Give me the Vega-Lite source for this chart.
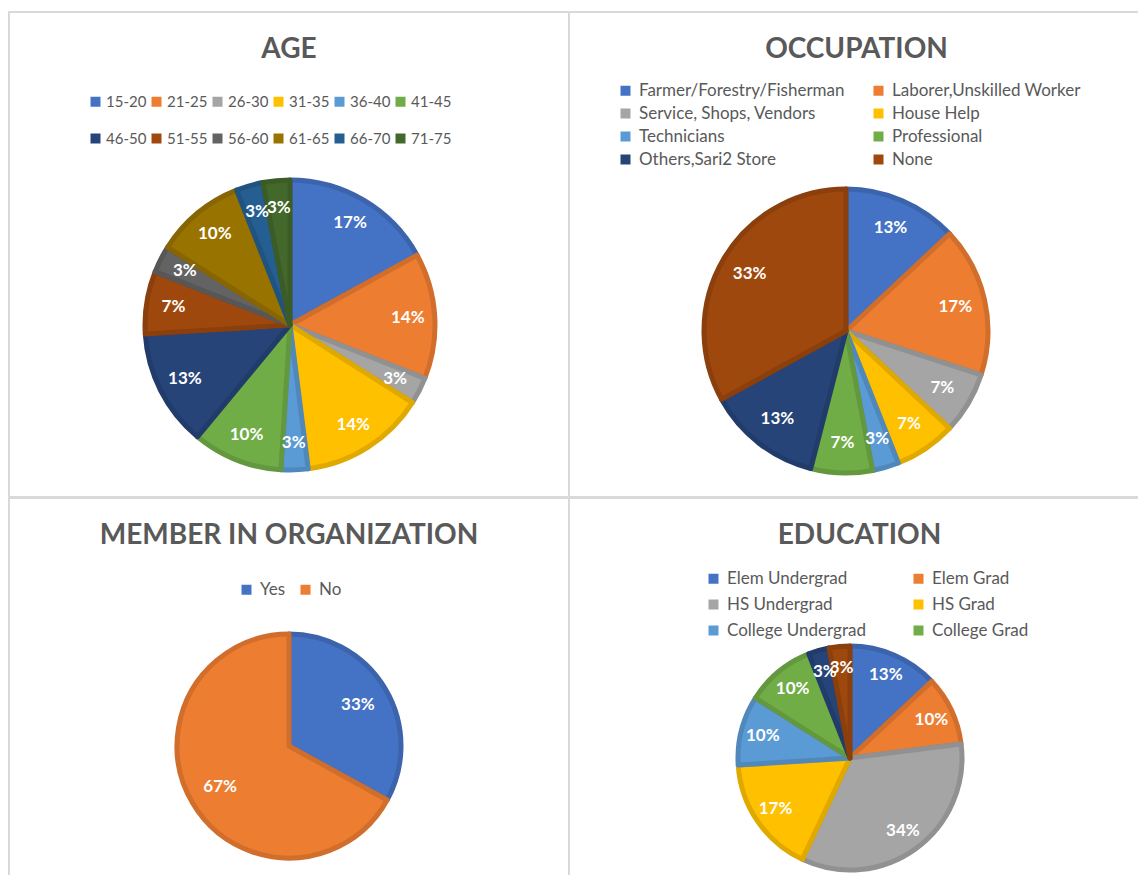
{
  "$schema": "https://vega.github.io/schema/vega-lite/v6.json",
  "background": "white",
  "padding": {"left": 8, "top": 11, "right": 0, "bottom": 0},
  "spacing": -2,
  "resolve": {"scale": {"color": "independent", "stroke": "independent"}, "legend": {"color": "independent"}},
  "config": {
    "font": "Lato",
    "view": {"stroke": "#d9d9d9", "strokeWidth": 2},
    "title": {"fontSize": 28, "fontWeight": "bold", "color": "#595959", "font": "Lato", "anchor": "middle", "frame": "group", "baseline": "alphabetic"},
    "legend": {"orient": "none", "direction": "horizontal", "symbolType": "square", "symbolSize": 100, "symbolStrokeWidth": 0, "labelFont": "Lato", "labelFontSize": 17, "labelColor": "#595959", "labelOffset": 5, "labelLimit": 0, "title": null},
    "text": {"color": "white", "fontSize": 17, "fontWeight": "bold", "font": "Lato"}
  },
  "vconcat": [
    {
      "spacing": 0,
      "bounds": "flush",
      "resolve": {"scale": {"color": "independent", "stroke": "independent"}, "legend": {"color": "independent"}},
      "hconcat": [
        {
          "width": 560, "height": 485,
          "view": {"stroke": "#d9d9d9", "strokeWidth": 2},
          "title": {"text": "AGE", "offset": -52},
          "data": {"values": [
            {"cat": "15-20", "i": 1, "v": 0.17},
            {"cat": "21-25", "i": 2, "v": 0.14},
            {"cat": "26-30", "i": 3, "v": 0.03},
            {"cat": "31-35", "i": 4, "v": 0.14},
            {"cat": "36-40", "i": 5, "v": 0.03},
            {"cat": "41-45", "i": 6, "v": 0.10},
            {"cat": "46-50", "i": 7, "v": 0.13},
            {"cat": "51-55", "i": 8, "v": 0.07},
            {"cat": "56-60", "i": 9, "v": 0.03},
            {"cat": "61-65", "i": 10, "v": 0.10},
            {"cat": "66-70", "i": 11, "v": 0.03},
            {"cat": "71-75", "i": 12, "v": 0.03}
          ]},
          "encoding": {
            "theta": {"field": "v", "type": "quantitative", "stack": true},
            "order": {"field": "i", "type": "quantitative"}
          },
          "layer": [
            {
              "mark": {"type": "arc", "outerRadius": 145, "xOffset": 1, "yOffset": 70.5, "strokeWidth": 5, "strokeJoin": "round"},
              "encoding": {
                "color": {"field": "cat", "type": "nominal",
                  "scale": {"domain": ["15-20","21-25","26-30","31-35","36-40","41-45","46-50","51-55","56-60","61-65","66-70","71-75"],
                            "range": ["#4472C4","#ED7D31","#A5A5A5","#FFC000","#5B9BD5","#70AD47","#264478","#9E480E","#636363","#997300","#255E91","#43682B"]},
                  "legend": {"columns": 6, "legendX": 79, "legendY": 82, "labelFontSize": 15, "labelOffset": 3, "columnPadding": 2, "rowPadding": 21}},
                "stroke": {"field": "cat", "type": "nominal",
                  "scale": {"domain": ["15-20","21-25","26-30","31-35","36-40","41-45","46-50","51-55","56-60","61-65","66-70","71-75"],
                            "range": ["#3C64AC","#D16E2B","#919191","#E0A900","#5088BC","#63983F","#213C6A","#8B3F0C","#575757","#876500","#215380","#3B5C26"]},
                  "legend": null}
              }
            },
            {
              "mark": {"type": "text", "radius": 118, "xOffset": 1, "yOffset": 70.5},
              "encoding": {"text": {"field": "v", "type": "quantitative", "format": ".0%"}}
            }
          ]
        },
        {
          "width": 575, "height": 485,
          "view": {"stroke": "#d9d9d9", "strokeWidth": 2},
          "title": {"text": "OCCUPATION", "offset": -52},
          "data": {"values": [
            {"occ": "Farmer/Forestry/Fisherman", "i": 1, "v": 0.13},
            {"occ": "Laborer,Unskilled Worker", "i": 2, "v": 0.17},
            {"occ": "Service, Shops, Vendors", "i": 3, "v": 0.07},
            {"occ": "House Help", "i": 4, "v": 0.07},
            {"occ": "Technicians", "i": 5, "v": 0.03},
            {"occ": "Professional", "i": 6, "v": 0.07},
            {"occ": "Others,Sari2 Store", "i": 7, "v": 0.13},
            {"occ": "None", "i": 8, "v": 0.33}
          ]},
          "encoding": {
            "theta": {"field": "v", "type": "quantitative", "stack": true},
            "order": {"field": "i", "type": "quantitative"}
          },
          "layer": [
            {
              "mark": {"type": "arc", "outerRadius": 142, "xOffset": -10.5, "yOffset": 76.5, "strokeWidth": 5, "strokeJoin": "round"},
              "encoding": {
                "color": {"field": "occ", "type": "nominal",
                  "scale": {"domain": ["Farmer/Forestry/Fisherman","Laborer,Unskilled Worker","Service, Shops, Vendors","House Help","Technicians","Professional","Others,Sari2 Store","None"],
                            "range": ["#4472C4","#ED7D31","#A5A5A5","#FFC000","#5B9BD5","#70AD47","#264478","#9E480E"]},
                  "legend": {"columns": 2, "legendX": 48, "legendY": 70, "columnPadding": 25, "rowPadding": 5}},
                "stroke": {"field": "occ", "type": "nominal",
                  "scale": {"domain": ["Farmer/Forestry/Fisherman","Laborer,Unskilled Worker","Service, Shops, Vendors","House Help","Technicians","Professional","Others,Sari2 Store","None"],
                            "range": ["#3C64AC","#D16E2B","#919191","#E0A900","#5088BC","#63983F","#213C6A","#8B3F0C"]},
                  "legend": null}
              }
            },
            {
              "mark": {"type": "text", "radius": 112, "xOffset": -10.5, "yOffset": 76.5},
              "encoding": {"text": {"field": "v", "type": "quantitative", "format": ".0%"}}
            }
          ]
        }
      ]
    },
    {
      "spacing": 0,
      "bounds": "flush",
      "resolve": {"scale": {"color": "independent", "stroke": "independent"}, "legend": {"color": "independent"}},
      "hconcat": [
        {
          "width": 560, "height": 385,
          "view": {"stroke": "#d9d9d9", "strokeWidth": 2},
          "title": {"text": "MEMBER IN ORGANIZATION", "offset": -52},
          "data": {"values": [
            {"mem": "Yes", "i": 1, "v": 0.33},
            {"mem": "No", "i": 2, "v": 0.67}
          ]},
          "encoding": {
            "theta": {"field": "v", "type": "quantitative", "stack": true},
            "order": {"field": "i", "type": "quantitative"}
          },
          "layer": [
            {
              "mark": {"type": "arc", "outerRadius": 112, "xOffset": 0, "yOffset": 55.5, "strokeWidth": 5, "strokeJoin": "round"},
              "encoding": {
                "color": {"field": "mem", "type": "nominal",
                  "scale": {"domain": ["Yes","No"], "range": ["#4472C4","#ED7D31"]},
                  "legend": {"columns": 2, "legendX": 229, "legendY": 83, "columnPadding": 11, "rowPadding": 6}},
                "stroke": {"field": "mem", "type": "nominal",
                  "scale": {"domain": ["Yes","No"], "range": ["#3C64AC","#D16E2B"]},
                  "legend": null}
              }
            },
            {
              "mark": {"type": "text", "radius": 80, "xOffset": 0, "yOffset": 55.5},
              "encoding": {"text": {"field": "v", "type": "quantitative", "format": ".0%"}}
            }
          ]
        },
        {
          "width": 575, "height": 385,
          "view": {"stroke": "#d9d9d9", "strokeWidth": 2},
          "title": {"text": "EDUCATION", "offset": -52, "dx": 3},
          "data": {"values": [
            {"edu": "Elem Undergrad", "i": 1, "v": 0.13},
            {"edu": "Elem Grad", "i": 2, "v": 0.10},
            {"edu": "HS Undergrad", "i": 3, "v": 0.34},
            {"edu": "HS Grad", "i": 4, "v": 0.17},
            {"edu": "College Undergrad", "i": 5, "v": 0.10},
            {"edu": "College Grad", "i": 6, "v": 0.10},
            {"edu": "Vocational", "i": 7, "v": 0.03},
            {"edu": "Post Grad", "i": 8, "v": 0.03}
          ]},
          "encoding": {
            "theta": {"field": "v", "type": "quantitative", "stack": true},
            "order": {"field": "i", "type": "quantitative"}
          },
          "layer": [
            {
              "mark": {"type": "arc", "outerRadius": 112, "xOffset": -6.5, "yOffset": 67.5, "strokeWidth": 5, "strokeJoin": "round"},
              "encoding": {
                "color": {"field": "edu", "type": "nominal",
                  "scale": {"domain": ["Elem Undergrad","Elem Grad","HS Undergrad","HS Grad","College Undergrad","College Grad","Vocational","Post Grad"],
                            "range": ["#4472C4","#ED7D31","#A5A5A5","#FFC000","#5B9BD5","#70AD47","#264478","#9E480E"]},
                  "legend": {"columns": 2, "legendX": 136, "legendY": 72, "columnPadding": 44, "rowPadding": 8,
                             "values": ["Elem Undergrad","Elem Grad","HS Undergrad","HS Grad","College Undergrad","College Grad"]}},
                "stroke": {"field": "edu", "type": "nominal",
                  "scale": {"domain": ["Elem Undergrad","Elem Grad","HS Undergrad","HS Grad","College Undergrad","College Grad","Vocational","Post Grad"],
                            "range": ["#3C64AC","#D16E2B","#919191","#E0A900","#5088BC","#63983F","#213C6A","#8B3F0C"]},
                  "legend": null}
              }
            },
            {
              "mark": {"type": "text", "radius": 90, "xOffset": -6.5, "yOffset": 67.5},
              "encoding": {"text": {"field": "v", "type": "quantitative", "format": ".0%"}}
            }
          ]
        }
      ]
    }
  ]
}
